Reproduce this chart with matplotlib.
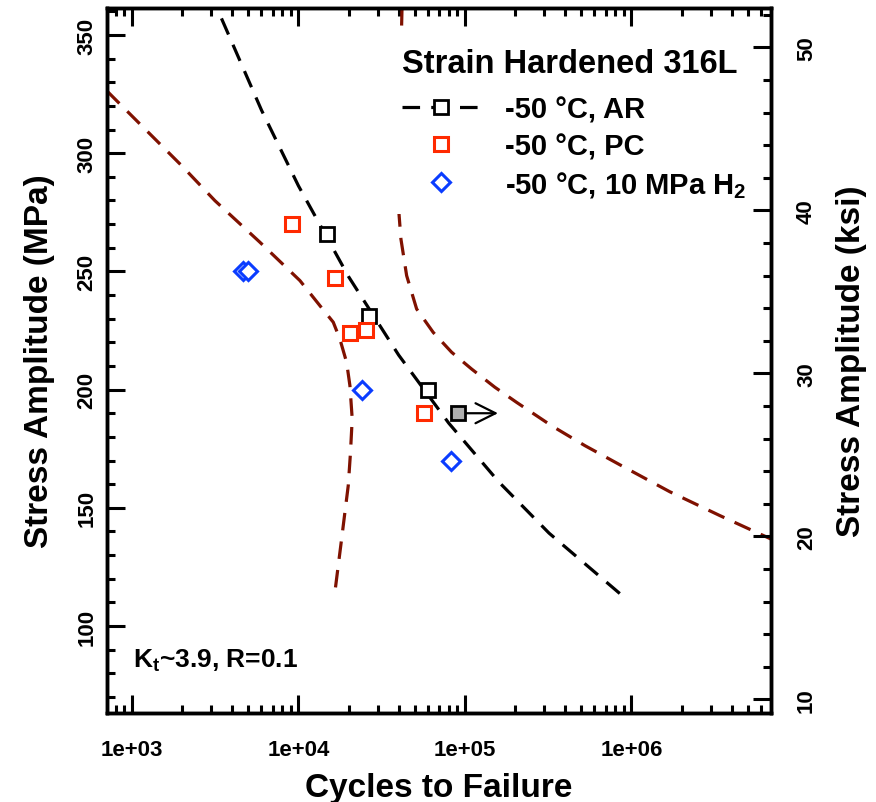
import matplotlib
matplotlib.use("Agg")
import matplotlib.pyplot as plt
from matplotlib.lines import Line2D
from matplotlib.ticker import FixedLocator, MultipleLocator, LogLocator, NullFormatter

plt.rcParams['font.family'] = ['Liberation Sans', 'DejaVu Sans']
plt.rcParams['font.weight'] = 'bold'
plt.rcParams['mathtext.fontset'] = 'custom'
plt.rcParams['mathtext.rm'] = 'Liberation Sans:bold'
plt.rcParams['mathtext.it'] = 'Liberation Sans:bold'
plt.rcParams['mathtext.bf'] = 'Liberation Sans:bold'
plt.rcParams['mathtext.default'] = 'rm'

# -50 C, as received (AR)
ar_cycles = [14800, 26600, 59700]
ar_stress = [266, 231, 200]
# AR run-out
runout_cycles = [91200]
runout_stress = [190]
runout_arrow_end = 158000

# -50 C, precharged (PC)
pc_cycles = [9180, 16600, 20400, 25400, 57000]
pc_stress = [270, 247, 224, 225, 190]

# -50 C, 10 MPa H2
h2_cycles = [4660, 5000, 24000, 82400]
h2_stress = [250, 250, 200, 170]

# fit through AR data
fit_cycles = [3450, 6000, 10000, 20000, 40000, 80000, 160000, 320000, 853000]
fit_stress = [357.0, 318.2, 286.2, 247.8, 214.6, 185.8, 160.9, 139.3, 113.7]

# lower / upper bound curves (dark red dashed)
lo_cycles = [708, 773, 1990, 3152, 5875, 10210, 13460, 16190, 17740, 19480, 20390,
             21040, 20520, 19920, 19020, 18170, 17340, 16560]
lo_stress = [326.3, 323.6, 294.7, 279.9, 262.3, 246.1, 235.5, 228.5, 221.4, 211.5, 201.6,
             187.6, 172.8, 159.4, 148.1, 136.8, 125.5, 114.3]
hi_cycles = [41900, 40700, 39700, 41270, 44670, 51290, 64500, 83200, 109700, 151300, 204400,
             331700, 525600, 873000, 1700000, 3400000, 6890000]
hi_stress = [361.4, 323.0, 279.2, 263.7, 248.2, 234.1, 224.2, 215.8, 208.7, 201.0, 194.6,
             184.7, 176.3, 167.8, 156.8, 146.7, 136.8]

x_ticks = [1e3, 1e4, 1e5, 1e6]
x_ticklabels = ['1e+03', '1e+04', '1e+05', '1e+06']

MPA_PER_KSI = 6.894757
xlim = (708, 6.89e6)
ylim = (63.2, 361.4)

red = '#ff2a00'
blue = '#0a3cff'
darkred = '#7f1100'

fig = plt.figure(figsize=(8.76, 8.03), dpi=100)
ax = fig.add_axes([0.1221, 0.1108, 0.7580, 0.8780])

dash = (0, (5.5, 3.5))
ax.plot(lo_cycles, lo_stress, color=darkred, lw=2.3, ls=dash)
ax.plot(hi_cycles, hi_stress, color=darkred, lw=2.3, ls=dash)
ax.plot(fit_cycles, fit_stress, color='black', lw=2.3, ls=dash)

ax.plot(ar_cycles, ar_stress, ls='none', marker='s', ms=10, mfc='white', mec='black', mew=2)
ax.annotate('', xy=(runout_arrow_end, runout_stress[0]), xytext=(runout_cycles[0], runout_stress[0]),
            arrowprops=dict(arrowstyle='->', color='black', lw=1.6, mutation_scale=36,
                            shrinkA=0, shrinkB=0), zorder=3)
ax.plot(runout_cycles, runout_stress, ls='none', marker='s', ms=10, mfc='#b0b0b0', mec='black', mew=2, zorder=4)
ax.plot(pc_cycles, pc_stress, ls='none', marker='s', ms=10, mfc='white', mec=red, mew=2.2)
ax.plot(h2_cycles, h2_stress, ls='none', marker='D', ms=9, mfc='white', mec=blue, mew=2.2)

ax.set_xscale('log')
ax.set_xlim(xlim)
ax.set_ylim(ylim)
ax.xaxis.set_major_locator(FixedLocator(x_ticks))
ax.set_xticklabels(x_ticklabels)
ax.xaxis.set_minor_locator(LogLocator(base=10, subs=range(2, 10), numticks=20))
ax.xaxis.set_minor_formatter(NullFormatter())
ax.yaxis.set_major_locator(MultipleLocator(50))
ax.yaxis.set_minor_locator(MultipleLocator(10))

ax.tick_params(which='both', direction='in', top=True, right=False, width=2.2)
ax.tick_params(which='major', length=13)
ax.tick_params(which='minor', length=6)
ax.tick_params(axis='x', labelsize=16, pad=19)
ax.tick_params(axis='y', labelsize=16, pad=7, labelrotation=90)
for lab in ax.get_yticklabels():
    lab.set_va('center')
for s in ax.spines.values():
    s.set_linewidth(2.5)

ax.set_xlabel('Cycles to Failure', fontsize=24, fontweight='bold', labelpad=8)
ax.set_ylabel('Stress Amplitude (MPa)', fontsize=24, fontweight='bold', labelpad=15)

ax2 = ax.twinx()
ax2.set_ylim(ylim[0] / MPA_PER_KSI, ylim[1] / MPA_PER_KSI)
ax2.yaxis.set_major_locator(MultipleLocator(10))
ax2.yaxis.set_minor_locator(MultipleLocator(2))
ax2.tick_params(which='both', direction='in', width=2.2)
ax2.tick_params(which='major', length=13)
ax2.tick_params(which='minor', length=6)
ax2.tick_params(axis='y', labelsize=16, pad=18, labelrotation=90)
for lab in ax2.get_yticklabels():
    lab.set_va('center')
for s in ax2.spines.values():
    s.set_linewidth(2.5)
ax2.set_ylabel('Stress Amplitude (ksi)', fontsize=24, fontweight='bold', labelpad=14)

ax.text(0.039, 0.065, r'K$_t$~3.9, R=0.1', transform=ax.transAxes, fontsize=19, fontweight='bold')

handles = [
    Line2D([], [], color='black', lw=2.3, ls=dash, marker='s', ms=10, mfc='white', mec='black', mew=2),
    Line2D([], [], ls='none', marker='s', ms=10, mfc='white', mec=red, mew=2.2),
    Line2D([], [], ls='none', marker='D', ms=9, mfc='white', mec=blue, mew=2.2),
]
labels = ['-50 °C, AR', '-50 °C, PC', r'-50 °C, 10 MPa H$_2$']
leg = ax.legend(handles, labels, title='Strain Hardened 316L', loc='upper left',
                bbox_to_anchor=(0.40, 0.985), frameon=True, facecolor='white', edgecolor='none',
                framealpha=1, fancybox=False, fontsize=21, handlelength=2.7, handletextpad=0.85,
                labelspacing=0.3, borderpad=0.5, alignment='left',
                title_fontproperties={'weight': 'bold', 'size': 23.5})
leg._legend_box.sep = 12
# keep the white legend box under the axes frame
leg.set_zorder(2.2)

fig.savefig('out.png', dpi=100)
